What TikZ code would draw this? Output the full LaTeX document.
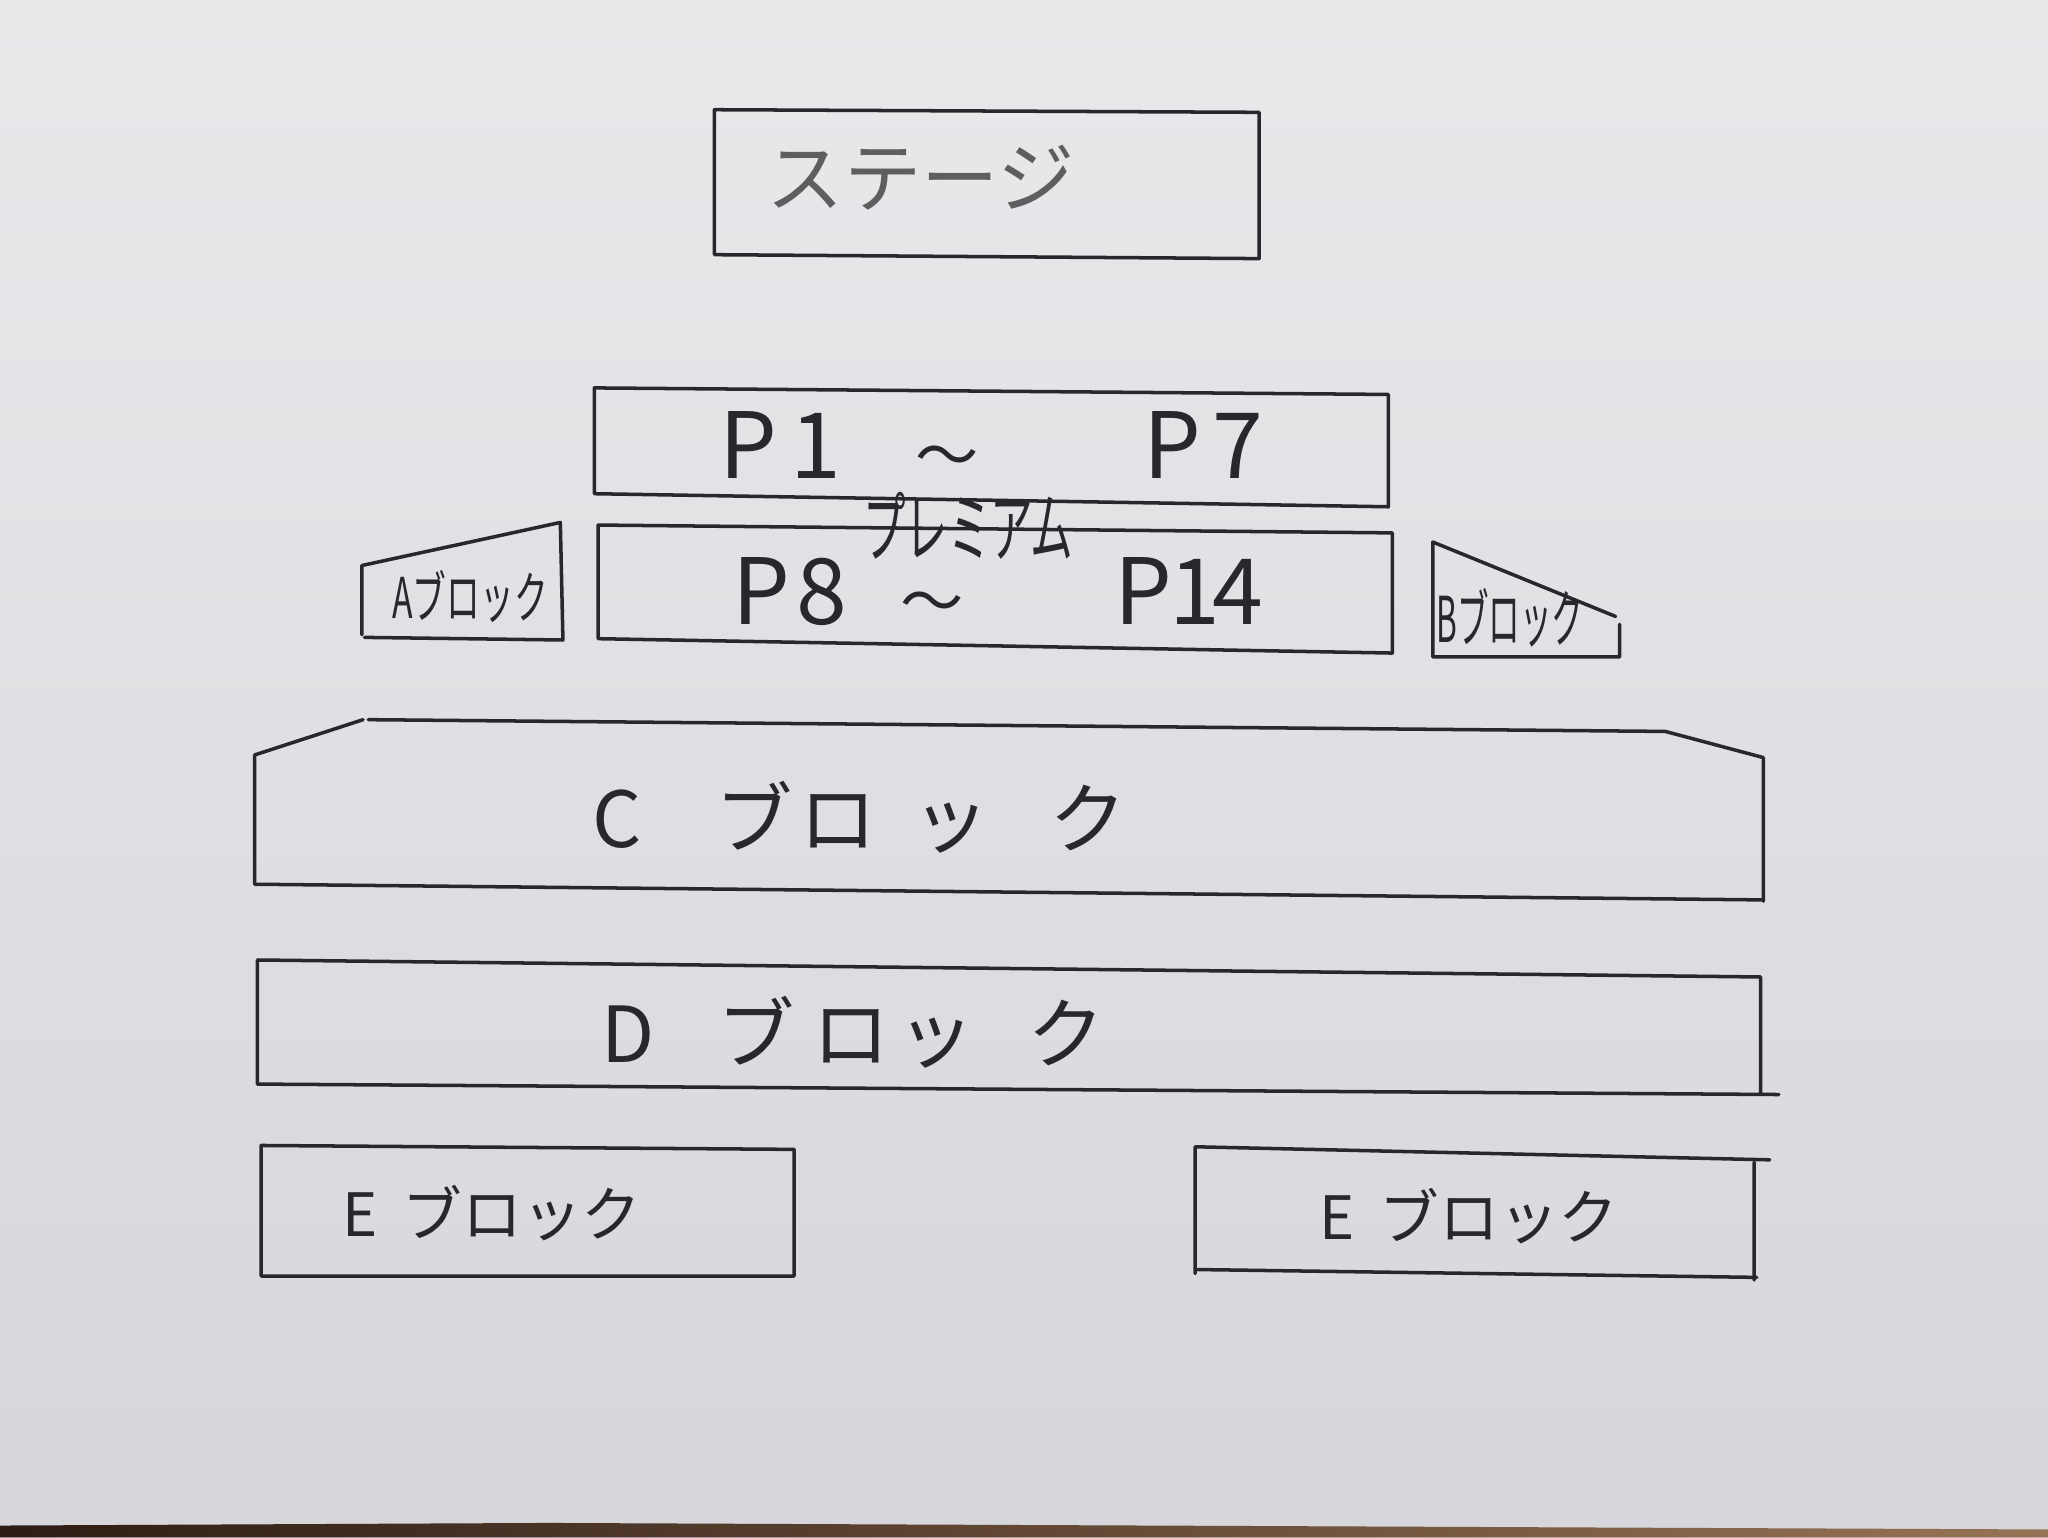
\documentclass[tikz,border=0pt]{standalone}
\usepackage{fontspec}
\setmainfont{Noto Sans CJK JP}
\usetikzlibrary{positioning}

\definecolor{paper}{RGB}{233,233,236}
\definecolor{paperlow}{RGB}{214,214,219}
\definecolor{pencil}{RGB}{40,40,44}
\definecolor{deskdark}{RGB}{45,28,20}
\definecolor{desklight}{RGB}{150,115,85}

\newcommand{\handsize}[1]{\fontsize{#1}{#1}\selectfont}

\tikzset{
  block/.style={draw=pencil, line width=1pt, line join=round, line cap=round},
  seat/.style={text=pencil, inner sep=0pt, anchor=west},
  tag/.style={text=pencil, inner sep=0pt},
}

\begin{document}
\begin{tikzpicture}[x=0.013061cm, y=-0.013061cm]
    \shade[top color=paper, bottom color=paperlow] (0,0) rectangle (1568,1177);
    \shade[left color=deskdark, right color=desklight] (0,1168) -- (420,1166) -- (1568,1171) -- (1568,1177) -- (0,1177) -- cycle;
    \useasboundingbox (0,0) rectangle (1568,1177);

    \draw[block] (547,84) -- (964,86) -- (964,198) -- (547,195) -- cycle;
    \draw[block] (455,297) -- (1063,302) -- (1063,388) -- (455,378) -- cycle;
    \draw[block] (458,402) -- (1066,408) -- (1066,500) -- (458,489) -- cycle;
    \draw[block] (277,486) -- (277,433) -- (429,400) -- (431,490) -- (279,488);
    \draw[block] (1240,478) -- (1240,503) -- (1097,503) -- (1097,415) -- (1237,472);
    \draw[block] (195,677) -- (195,578) -- (278,551) (282,551) -- (1275,560) -- (1350,580) -- (1350,690) -- (1350,689) -- (195,677);
    \draw[block] (197,735) -- (1348,748) -- (1348,838) (1362,838) -- (197,830) -- (197,735);
    \draw[block] (200,877) -- (608,880) -- (608,977) -- (200,977) -- cycle;
    \draw[block] (915,878) -- (1355,888) (1343,890) -- (1343,980) (1345,978) -- (917,972) (915,975) -- (915,878);

    \node[tag, text=pencil!75] (stage) at (705,136) {\handsize{22}ステージ};
    \node[seat, anchor=base west, text depth=0pt] (p_top) at (550,366) {\handsize{26}P\hspace{4pt}1\hspace{21pt}{\handsize{18}～}\hspace{47pt}P\hspace{3pt}7};
    \node[seat, anchor=base west] (p_bot) at (560,478) {\handsize{26}P\hspace{2pt}8\hspace{15pt}{\handsize{18}～}\hspace{43pt}P\hspace{-1pt}1\hspace{-2pt}4};
    \node[tag, anchor=base, text depth=0pt] (premium) at (741,426) {\scalebox{0.55}[1]{\handsize{22}プレミアム}};
    \node[tag] (blk_a) at (360,457) {\scalebox{0.6}[1]{\handsize{16}Aブロック}};
    \node[tag] (blk_b) at (1156,473) {\scalebox{0.5}[1]{\handsize{18}Bブロック}};
    \node[seat] (blk_c) at (453,626) {\handsize{22}C\hspace{21pt}ブ\hspace{2pt}ロ\hspace{10pt}ッ\hspace{17pt}ク};
    \node[seat] (blk_d) at (460,790) {\handsize{22}D\hspace{18pt}ブ\hspace{5pt}ロ\hspace{2pt}ッ\hspace{15pt}ク};
    \node[seat] (blk_e1) at (262,929) {\handsize{17}E\hspace{7pt}ブロック};
    \node[seat] (blk_e2) at (1010,931) {\handsize{17}E\hspace{7pt}ブロック};
\end{tikzpicture}
\end{document}
